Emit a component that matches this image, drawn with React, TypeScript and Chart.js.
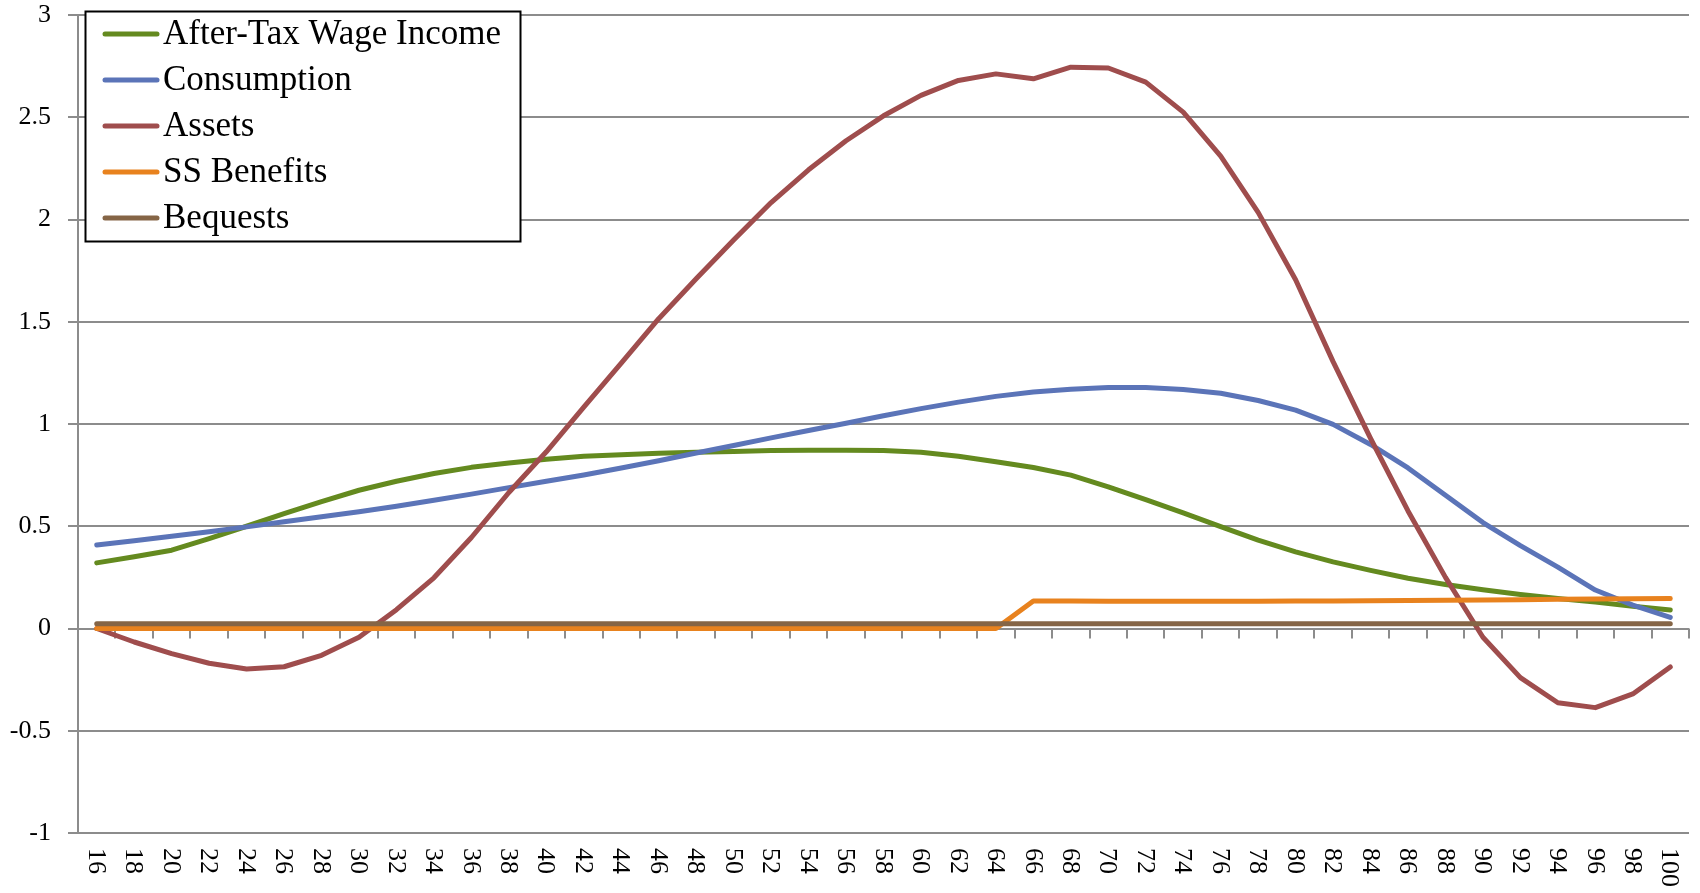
import { useEffect, useRef } from "react";
import { Chart, registerables } from "chart.js";

Chart.register(...registerables);

// Age categories along the horizontal axis
const AGES = [
  "16", "18", "20", "22", "24", "26", "28", "30", "32", "34", "36", "38", "40",
  "42", "44", "46", "48", "50", "52", "54", "56", "58", "60", "62", "64",
  "66", "68", "70", "72", "74", "76", "78", "80", "82", "84", "86", "88", "90",
  "92", "94", "96", "98", "100",
];

const WAGE_INCOME = [
  0.321, 0.351, 0.383, 0.44, 0.5, 0.562, 0.62, 0.676, 0.72, 0.758, 0.788, 0.809, 0.828,
  0.842, 0.85, 0.857, 0.862, 0.866, 0.87, 0.872, 0.872, 0.87, 0.862, 0.842, 0.815,
  0.787, 0.75, 0.693, 0.63, 0.565, 0.498, 0.432, 0.375, 0.326, 0.284, 0.246, 0.215, 0.189,
  0.166, 0.147, 0.129, 0.109, 0.091,
];

const CONSUMPTION = [
  0.408, 0.429, 0.451, 0.473, 0.497, 0.522, 0.546, 0.571, 0.598, 0.627, 0.657, 0.689, 0.72,
  0.751, 0.785, 0.82, 0.858, 0.895, 0.932, 0.968, 1.004, 1.04, 1.075, 1.107, 1.135,
  1.157, 1.17, 1.178, 1.179, 1.169, 1.15, 1.115, 1.068, 0.998, 0.9, 0.785, 0.652, 0.518,
  0.405, 0.3, 0.188, 0.114, 0.054,
];

const ASSETS = [
  0, -0.066, -0.123, -0.17, -0.198, -0.187, -0.131, -0.043, 0.092, 0.248, 0.445, 0.665, 0.864,
  1.082, 1.298, 1.515, 1.71, 1.9, 2.083, 2.243, 2.385, 2.507, 2.607, 2.68, 2.712,
  2.688, 2.745, 2.741, 2.672, 2.525, 2.31, 2.035, 1.705, 1.305, 0.93, 0.575, 0.25, -0.043,
  -0.24, -0.363, -0.387, -0.32, -0.188,
];

const SS_BENEFITS = [
  0, 0, 0, 0, 0, 0, 0, 0, 0, 0, 0, 0, 0,
  0, 0, 0, 0, 0, 0, 0, 0, 0, 0, 0, 0,
  0.135, 0.134, 0.133, 0.133, 0.133, 0.133, 0.133, 0.134, 0.135, 0.136, 0.137, 0.138, 0.139,
  0.141, 0.143, 0.144, 0.146, 0.147,
];

const BEQUESTS = [
  0.023, 0.023, 0.023, 0.023, 0.023, 0.023, 0.023, 0.023, 0.023, 0.023, 0.023, 0.023, 0.023,
  0.023, 0.023, 0.023, 0.023, 0.023, 0.023, 0.023, 0.023, 0.023, 0.023, 0.023, 0.023,
  0.023, 0.023, 0.023, 0.023, 0.023, 0.023, 0.023, 0.023, 0.023, 0.023, 0.023, 0.023, 0.023,
  0.023, 0.023, 0.023, 0.023, 0.023,
];

const SERIES_NAMES = ["After-Tax Wage Income", "Consumption", "Assets", "SS Benefits", "Bequests"];
const SERIES_COLORS = ["#648a1f", "#5b74b8", "#9f4d4d", "#e8821e", "#856546"];

const FONT_FAMILY = '"Liberation Serif", "Times New Roman", serif';
const TICK_FONT_SIZE = 26;
const LEGEND_FONT_SIZE = 35;
const GRID_COLOR = "#8c8c8c";
const LINE_WIDTH = 5;

// Category tick marks hanging below the zero line, plus rotated age labels
const categoryAxisPlugin = {
  id: "categoryAxis",
  beforeDatasetsDraw(chart: any) {
    const { ctx, chartArea } = chart;
    const x = chart.scales.x;
    const y = chart.scales.y;
    const y0 = y.getPixelForValue(0);
    const n = chart.data.labels.length;
    ctx.save();
    ctx.strokeStyle = GRID_COLOR;
    ctx.lineWidth = 2;
    ctx.beginPath();
    for (let i = 0; i <= n; i++) {
      let px: number;
      if (i === 0) px = chartArea.left;
      else if (i === n) px = chartArea.right;
      else px = (x.getPixelForValue(i - 1) + x.getPixelForValue(i)) / 2;
      px = Math.round(px);
      ctx.moveTo(px, y0);
      ctx.lineTo(px, y0 + 10);
    }
    ctx.stroke();
    ctx.restore();
  },
  afterDraw(chart: any) {
    const { ctx } = chart;
    const x = chart.scales.x;
    const labels = chart.data.labels as string[];
    const top = chart.chartArea.bottom + 15;
    ctx.save();
    ctx.fillStyle = "#000";
    ctx.font = `${TICK_FONT_SIZE}px ${FONT_FAMILY}`;
    ctx.textAlign = "left";
    ctx.textBaseline = "middle";
    labels.forEach((lab, i) => {
      const px = x.getPixelForValue(i);
      ctx.save();
      ctx.translate(px, top);
      ctx.rotate(Math.PI / 2);
      ctx.fillText(lab, 0, 1);
      ctx.restore();
    });
    ctx.restore();
  },
};

// Boxed legend in the upper-left of the plot
const boxedLegendPlugin = {
  id: "boxedLegend",
  afterDraw(chart: any) {
    const { ctx } = chart;
    const left = 85.5;
    const top = 11.5;
    const width = 435;
    const height = 230;
    ctx.save();
    ctx.fillStyle = "#fff";
    ctx.fillRect(left, top, width, height);
    ctx.strokeStyle = "#000";
    ctx.lineWidth = 2;
    ctx.strokeRect(left, top, width, height);
    ctx.font = `${LEGEND_FONT_SIZE}px ${FONT_FAMILY}`;
    ctx.textAlign = "left";
    ctx.textBaseline = "alphabetic";
    chart.data.datasets.forEach((ds: any, i: number) => {
      const rowY = 34 + i * 46;
      ctx.strokeStyle = ds.borderColor;
      ctx.lineWidth = LINE_WIDTH;
      ctx.lineCap = "round";
      ctx.beginPath();
      ctx.moveTo(105, rowY);
      ctx.lineTo(157, rowY);
      ctx.stroke();
      ctx.fillStyle = "#000";
      ctx.fillText(ds.label, 163, rowY + 10);
    });
    ctx.restore();
  },
};

export default function App() {
  const canvasRef = useRef<HTMLCanvasElement>(null);

  useEffect(() => {
    const canvas = canvasRef.current;
    if (!canvas) return;
    const values = [WAGE_INCOME, CONSUMPTION, ASSETS, SS_BENEFITS, BEQUESTS];
    const chart = new Chart(canvas, {
      type: "line",
      data: {
        labels: AGES,
        datasets: values.map((data, i) => ({
          label: SERIES_NAMES[i],
          data,
          borderColor: SERIES_COLORS[i],
          backgroundColor: SERIES_COLORS[i],
          borderWidth: LINE_WIDTH,
          borderCapStyle: "round" as const,
          borderJoinStyle: "round" as const,
          pointRadius: 0,
          pointHoverRadius: 0,
          tension: 0,
          fill: false,
          // later series sit on top
          order: values.length - i,
        })),
      },
      options: {
        responsive: false,
        animation: false,
        layout: { padding: { top: 15, right: 11, left: 0, bottom: 0 } },
        plugins: {
          legend: { display: false },
          tooltip: { enabled: false },
        },
        scales: {
          x: {
            type: "category",
            offset: true,
            grid: { display: false },
            border: { display: false },
            ticks: { display: false },
            afterFit: (scale: any) => {
              scale.height = 60;
              scale.paddingLeft = 0;
              scale.paddingRight = 0;
            },
          },
          y: {
            min: -1,
            max: 3,
            ticks: {
              stepSize: 0.5,
              padding: 17,
              color: "#000",
              font: { family: FONT_FAMILY, size: TICK_FONT_SIZE },
              callback: (v: any) => String(v),
            },
            grid: {
              color: GRID_COLOR,
              lineWidth: 2,
              tickLength: 10,
              drawTicks: true,
            },
            border: { color: GRID_COLOR, width: 2 },
            afterFit: (scale: any) => {
              scale.width = 78;
              scale.paddingTop = 0;
              scale.paddingBottom = 0;
            },
          },
        },
      },
      plugins: [categoryAxisPlugin, boxedLegendPlugin],
    });
    return () => chart.destroy();
  }, []);

  return (
    <div style={{ position: "fixed", left: 0, top: 0, width: 1700, height: 893, background: "#fff" }}>
      <canvas ref={canvasRef} width={1700} height={893} style={{ display: "block" }} />
    </div>
  );
}
